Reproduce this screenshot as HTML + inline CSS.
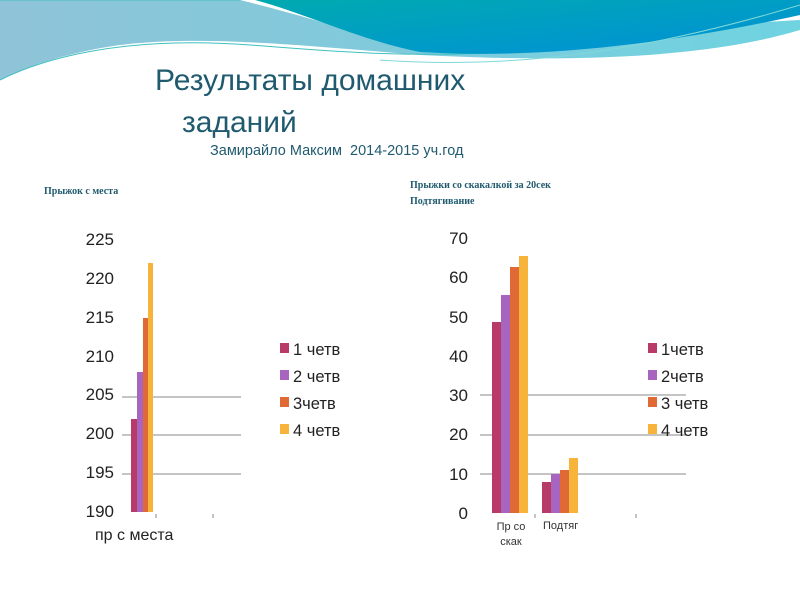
<!DOCTYPE html>
<html><head><meta charset="utf-8"><style>
body{margin:0;width:800px;height:600px;overflow:hidden;background:#fff;font-family:"Liberation Sans",sans-serif;}
.t{position:absolute;white-space:nowrap;}
</style></head><body>
<svg width="800" height="600" style="position:absolute;left:0;top:0">
<defs>
<linearGradient id="g1" x1="0" y1="0" x2="1" y2="0"><stop offset="0" stop-color="#8fc3d8"/><stop offset="1" stop-color="#6fd3e0"/></linearGradient>
<linearGradient id="g2" x1="0" y1="0" x2="1" y2="1"><stop offset="0" stop-color="#00aab0"/><stop offset="1" stop-color="#0090d8"/></linearGradient>
</defs>
<path d="M0,0 L800,0 L800,30 C700,60 560,62 420,55 C300,45 200,35 120,45 C70,52 30,65 0,80 Z" fill="url(#g1)"/>
<path d="M0,80 C40,60 120,35 250,45 C380,55 520,70 800,10 L800,0 L0,0" fill="none" stroke="#40c0c0" stroke-width="1"/>
<path d="M240,0 C300,15 350,30 420,52 C520,40 620,30 800,20 L800,0 Z" fill="#fff"/>
<path d="M255,0 C310,15 360,40 420,52 C520,58 640,50 800,15 L800,0 Z" fill="url(#g2)"/>
<path d="M380,60 C520,70 650,50 800,5" fill="none" stroke="#80d8d8" stroke-width="1"/>
<g stroke="#888" stroke-width="1">
<line x1="122" y1="397" x2="241" y2="397"/><line x1="122" y1="435" x2="241" y2="435"/><line x1="122" y1="474" x2="241" y2="474"/>
<line x1="156" y1="514" x2="156" y2="518"/><line x1="213" y1="514" x2="213" y2="518"/>
</g>
<rect x="131" y="419" width="6" height="93" fill="#b83a68"/>
<rect x="137" y="372" width="6" height="140" fill="#a765c0"/>
<rect x="143" y="318" width="5" height="194" fill="#e06a35"/>
<rect x="148" y="263" width="5" height="249" fill="#f8b33a"/>
<g stroke="#888" stroke-width="1">
<line x1="480" y1="395" x2="686" y2="395"/><line x1="480" y1="435" x2="686" y2="435"/><line x1="480" y1="474" x2="686" y2="474"/>
<line x1="535" y1="514" x2="535" y2="518"/><line x1="636" y1="514" x2="636" y2="518"/>
</g>
<rect x="492" y="322" width="9" height="191" fill="#b83a68"/>
<rect x="501" y="295" width="9" height="218" fill="#a765c0"/>
<rect x="510" y="267" width="9" height="246" fill="#e06a35"/>
<rect x="519" y="256" width="9" height="257" fill="#f8b33a"/>
<rect x="542" y="482" width="9" height="31" fill="#b83a68"/>
<rect x="551" y="474" width="9" height="39" fill="#a765c0"/>
<rect x="560" y="470" width="9" height="43" fill="#e06a35"/>
<rect x="569" y="458" width="9" height="55" fill="#f8b33a"/>
<rect x="280" y="343" width="9" height="10" fill="#b83a68"/><rect x="280" y="370" width="9" height="10" fill="#a765c0"/><rect x="280" y="397" width="9" height="10" fill="#e06a35"/><rect x="280" y="424" width="9" height="10" fill="#f8b33a"/>
<rect x="648" y="343" width="9" height="10" fill="#b83a68"/><rect x="648" y="370" width="9" height="10" fill="#a765c0"/><rect x="648" y="397" width="9" height="10" fill="#e06a35"/><rect x="648" y="424" width="9" height="10" fill="#f8b33a"/>
</svg>
<div class="t" style="left:155px;top:64px;font-size:30px;color:#1f5a6e">Результаты домашних</div>
<div class="t" style="left:182px;top:106px;font-size:30px;color:#1f5a6e">заданий</div>
<div class="t" style="left:210px;top:143px;font-size:14.5px;color:#1f5a6e">Замирайло Максим&nbsp; 2014-2015 уч.год</div>
<div class="t" style="left:44px;top:186px;font-size:10px;font-weight:bold;color:#1f5a6e;font-family:'Liberation Serif',serif">Прыжок с места</div>
<div class="t" style="left:410px;top:178px;font-size:10px;font-weight:bold;color:#1f5a6e;font-family:'Liberation Serif',serif;line-height:16px">Прыжки со скакалкой за 20сек<br>Подтягивание</div>
<div class="t" style="left:70px;top:221px;font-size:17px;color:#222;line-height:38.86px;text-align:right;width:44px">225<br>220<br>215<br>210<br>205<br>200<br>195<br>190</div>
<div class="t" style="left:440px;top:219px;font-size:17px;color:#222;line-height:39.3px;text-align:right;width:28px">70<br>60<br>50<br>40<br>30<br>20<br>10<br>0</div>
<div class="t" style="left:95px;top:527px;font-size:16px;color:#222">пр с места</div>
<div class="t" style="left:496px;top:520px;font-size:11px;color:#333;text-align:center;line-height:15px;width:30px">Пр со<br>скак</div>
<div class="t" style="left:543px;top:520px;font-size:11px;color:#333">Подтяг</div>
<div class="t" style="left:293px;top:337px;font-size:16.5px;color:#222;line-height:27px">1 четв<br>2 четв<br>3четв<br>4 четв</div>
<div class="t" style="left:661px;top:337px;font-size:16.5px;color:#222;line-height:27px">1четв<br>2четв<br>3 четв<br>4 четв</div>
</body></html>
